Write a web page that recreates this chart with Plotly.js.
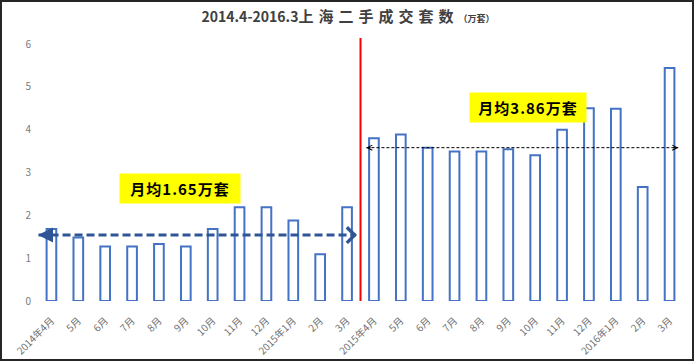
<!DOCTYPE html>
<html>
<head>
<meta charset="utf-8">
<script src="https://cdn.plot.ly/plotly-3.0.1.min.js"></script>
<style>
  html, body { margin: 0; padding: 0; background: #fff; }
  #wrap { position: relative; width: 697px; height: 364px; }
  #chart { position: absolute; left: 0; top: 0; width: 697px; height: 364px; }
  #frame { position: absolute; left: 0; top: 0; width: 690px; height: 357px; border: 2px solid #262626; pointer-events: none; }
</style>
</head>
<body>
<div id="wrap">
  <div id="chart"></div>
  <div id="frame"></div>
</div>
<script>
// ---- data ----
const months = ['2014年4月','5月','6月','7月','8月','9月','10月','11月','12月','2015年1月','2月','3月',
                '2015年4月','5月','6月','7月','8月','9月','10月','11月','12月','2016年1月','2月','3月'];
const volumes = [1.68,1.48,1.27,1.27,1.33,1.27,1.68,2.19,2.19,1.88,1.09,2.19,
                 3.80,3.89,3.58,3.49,3.49,3.54,3.40,4.00,4.50,4.49,2.66,5.44];
const yTicks = [0,1,2,3,4,5,6];
const avgLabels = ['月均1.65万套','月均3.86万套'];
const avgLevels = [1.54, 3.58];
const titleMain = '2014.4-2016.3';
const titleCjk = '上海二手成交套数';
const titleUnit = '（万套）';

const xIdx = months.map((_, i) => i);

const trace = {
  type: 'bar',
  x: xIdx,
  y: volumes,
  width: 0.36,
  marker: { color: '#ffffff', line: { color: '#4472C4', width: 2 } },
  hoverinfo: 'skip'
};

const cjkFont = '"Noto Sans CJK SC", "Noto Sans", sans-serif';

function arrowHead(x, y, ax, color, width, head) {
  return { x: x, y: y, xref: 'x', yref: 'y', ax: ax, ay: 0, text: '', showarrow: true,
           arrowhead: head, arrowsize: 1, arrowwidth: width, arrowcolor: color, standoff: 0, startstandoff: 0 };
}

const layout = {
  width: 697, height: 364,
  margin: { l: 38, r: 14, t: 44, b: 63, pad: 0 },
  paper_bgcolor: '#ffffff', plot_bgcolor: '#ffffff',
  showlegend: false,
  title: {
    text: '<span style="font-size:14px">' + titleMain + '</span>' +
          '<span style="letter-spacing:5px">' + titleCjk + '</span>' +
          '<span style="font-size:9px">' + titleUnit + '</span>',
    font: { family: cjkFont, size: 15, color: '#404040', weight: 'bold' },
    x: 348/697, xref: 'container', xanchor: 'center',
    y: 1 - 17/364, yref: 'container', yanchor: 'middle'
  },
  xaxis: {
    range: [-0.5, 23.5],
    tickmode: 'array', tickvals: xIdx, ticktext: months,
    tickangle: -45,
    tickfont: { family: cjkFont, size: 10, color: '#6f6f6f' },
    showgrid: false, zeroline: false, showline: false, ticks: '',
    ticklabelstandoff: 11,
    fixedrange: true
  },
  yaxis: {
    range: [0, 6],
    tickmode: 'array', tickvals: yTicks, ticktext: yTicks.map(String),
    tickfont: { family: cjkFont, size: 10, color: '#7a7a7a' },
    showgrid: false, zeroline: false, showline: false, ticks: '',
    ticklabelstandoff: 6,
    fixedrange: true
  },
  shapes: [
    { type: 'line', xref: 'x', yref: 'paper', x0: 11.5, x1: 11.5, y0: 0, y1: (301-38)/257,
      line: { color: '#FF0000', width: 2 } },
    { type: 'line', xref: 'x', yref: 'y', x0: -0.48, x1: 11.33, y0: avgLevels[0], y1: avgLevels[0],
      line: { color: '#2F5597', width: 3, dash: '8px,4px' } },
    { type: 'line', xref: 'x', yref: 'y', x0: 11.72, x1: 23.32, y0: avgLevels[1], y1: avgLevels[1],
      line: { color: '#000000', width: 1, dash: '3px,2px' } }
  ],
  annotations: [
    { x: 4.78, y: 2.63, xref: 'x', yref: 'y', showarrow: false,
      text: '<span style="letter-spacing:1px">' + avgLabels[0] + '</span>',
      font: { family: cjkFont, size: 15, color: '#000000', weight: 'bold' },
      bgcolor: '#FFFF00', width: 120, height: 29, borderpad: 0, align: 'center', valign: 'middle' },
    { x: 17.75, y: 4.51, xref: 'x', yref: 'y', showarrow: false,
      text: '<span style="letter-spacing:1px">' + avgLabels[1] + '</span>',
      font: { family: cjkFont, size: 15, color: '#000000', weight: 'bold' },
      bgcolor: '#FFFF00', width: 116, height: 29, borderpad: 0, align: 'center', valign: 'middle' },
    arrowHead(-0.5, avgLevels[0], 8, '#2F5597', 3, 2),
    arrowHead(11.37, avgLevels[0], -8, '#2F5597', 3, 4),
    arrowHead(11.71, avgLevels[1], 6, '#000000', 1, 5),
    arrowHead(23.33, avgLevels[1], -6, '#000000', 1, 5)
  ]
};

Plotly.newPlot('chart', [trace], layout, { displayModeBar: false, staticPlot: true });
</script>
</body>
</html>
